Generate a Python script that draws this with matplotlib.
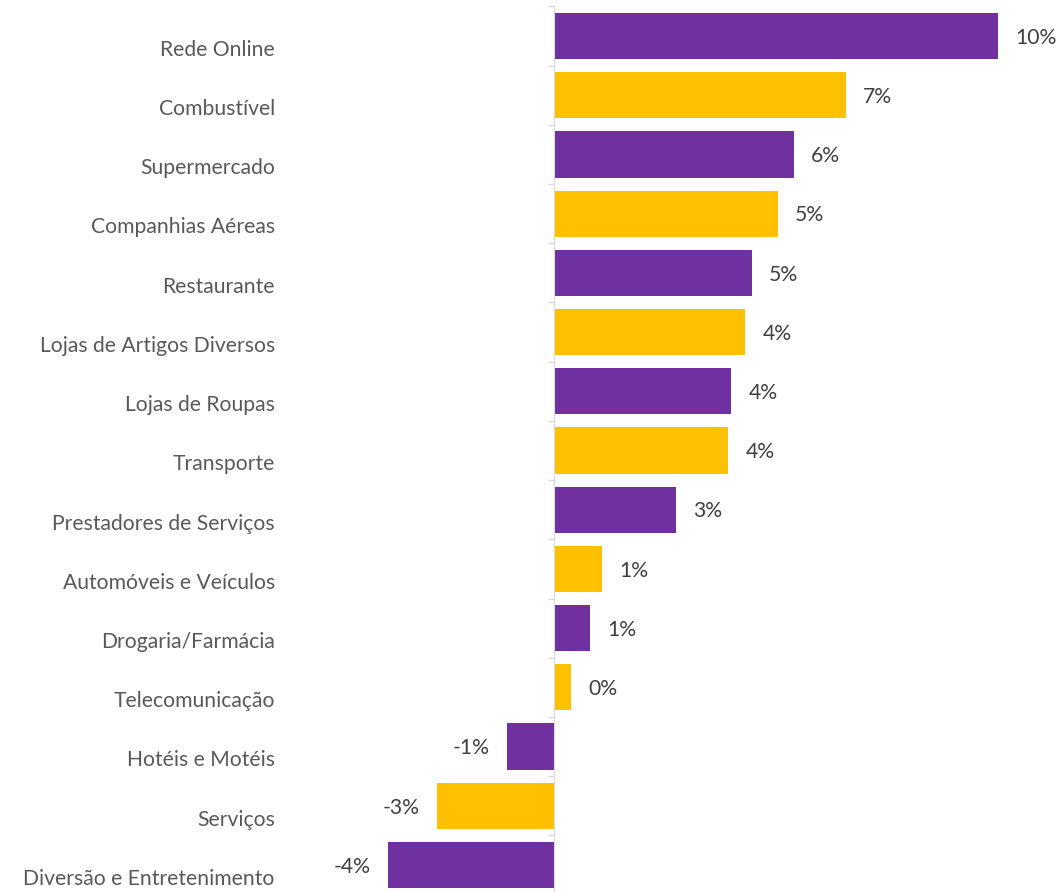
import matplotlib.pyplot as plt
import numpy as np

categories = ['Rede Online', 'Combustível', 'Supermercado', 'Companhias Aéreas',
              'Restaurante', 'Lojas de Artigos Diversos', 'Lojas de Roupas',
              'Transporte', 'Prestadores de Serviços', 'Automóveis e Veículos',
              'Drogaria/Farmácia', 'Telecomunicação', 'Hotéis e Motéis',
              'Serviços', 'Diversão e Entretenimento']
values = [10.32, 6.78, 5.58, 5.2, 4.6, 4.45, 4.12, 4.05, 2.84, 1.12, 0.84, 0.4, -1.09, -2.72, -3.86]

purple = '#7030A0'
yellow = '#FFC000'
colors = [purple if i % 2 == 0 else yellow for i in range(len(values))]

plt.rcParams['font.family'] = ['Lato', 'DejaVu Sans']

fig = plt.figure(figsize=(10.59, 8.92), dpi=100)
ax = fig.add_axes([0, -2.6 / 892, 1, 888.2 / 892])

y = np.arange(len(values))
ax.barh(y, values, height=0.78, color=colors, zorder=2)

ax.set_xlim(-554 / 43, 505 / 43)
ax.set_ylim(len(values) - 0.5, -0.5)

for s in ['top', 'right', 'bottom']:
    ax.spines[s].set_visible(False)
ax.spines['left'].set_position(('data', 0))
ax.spines['left'].set_color('#d9d9d9')
ax.spines['left'].set_zorder(3)
ax.set_xticks([])

ax.set_yticks(y + 0.2)
ax.set_yticklabels(categories, fontsize=15.2, color='#595959')
ax.tick_params(axis='y', which='major', length=0, pad=201)
ax.set_yticks(np.arange(len(values) + 1) - 0.5, minor=True)
ax.tick_params(axis='y', which='minor', length=4.3, color='#d9d9d9', width=1)

for i, v in enumerate(values):
    off = 0.4 if v >= 0 else -0.4
    ax.text(v + off, i + 0.03, f'{v:.0f}%', va='center', ha='left' if v >= 0 else 'right',
            fontsize=15.2, color='#404040')

fig.savefig('out.png', dpi=100)
